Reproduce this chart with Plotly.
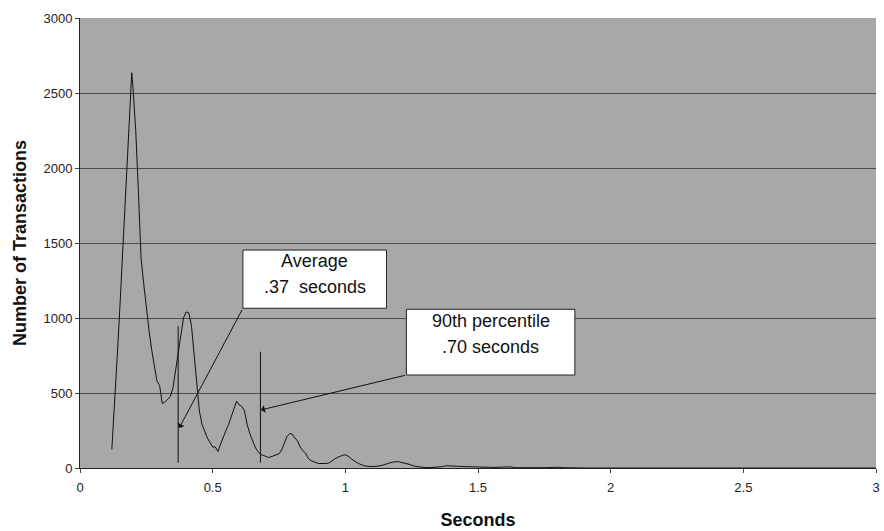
import plotly.graph_objects as go

# ---- data ----
seconds = [0.12, 0.13, 0.14, 0.15, 0.16, 0.17, 0.18, 0.19, 0.195, 0.20, 0.21, 0.22, 0.23, 0.24, 0.25,
           0.26, 0.27, 0.28, 0.29, 0.30, 0.31, 0.32, 0.33, 0.34, 0.35, 0.36, 0.37, 0.38, 0.39, 0.40,
           0.41, 0.42, 0.43, 0.44, 0.45, 0.46, 0.47, 0.48, 0.49, 0.50, 0.51, 0.52, 0.53, 0.54, 0.55,
           0.56, 0.57, 0.58, 0.59, 0.60, 0.61, 0.62, 0.63, 0.64, 0.65, 0.66, 0.67, 0.68, 0.69, 0.70,
           0.71, 0.72, 0.73, 0.74, 0.75, 0.76, 0.77, 0.78, 0.79, 0.80, 0.81, 0.82, 0.83, 0.84, 0.85,
           0.86, 0.87, 0.88, 0.89, 0.90, 0.91, 0.92, 0.93, 0.94, 0.95, 0.96, 0.97, 0.98, 0.99, 1.00,
           1.01, 1.02, 1.03, 1.04, 1.05, 1.06, 1.07, 1.08, 1.09, 1.10, 1.12, 1.14, 1.16, 1.18, 1.20,
           1.22, 1.24, 1.26, 1.28, 1.30, 1.32, 1.34, 1.36, 1.38, 1.40, 1.42, 1.44, 1.46, 1.48, 1.50,
           1.52, 1.54, 1.56, 1.58, 1.60, 1.62, 1.64, 1.70, 1.76, 1.80, 1.82, 1.90, 2.00, 2.50, 3.00]
transactions = [125, 400, 735, 1060, 1400, 1750, 2100, 2450, 2635, 2530, 2250, 1850, 1400, 1230, 1050,
                920, 790, 680, 580, 550, 430, 440, 460, 475, 530, 650, 790, 880, 1000, 1040,
                1035, 950, 770, 560, 380, 290, 240, 200, 170, 140, 140, 110, 160, 210, 250,
                290, 340, 390, 445, 420, 410, 380, 290, 230, 180, 140, 110, 90, 85, 80,
                70, 75, 80, 85, 95, 120, 170, 210, 230, 225, 200, 180, 140, 115, 100,
                65, 50, 40, 35, 30, 30, 25, 30, 35, 50, 60, 70, 80, 85, 88,
                80, 65, 50, 40, 30, 22, 15, 12, 10, 10, 12, 18, 30, 40, 42,
                35, 25, 12, 5, 3, 3, 5, 8, 15, 16, 12, 10, 8, 6, 5,
                6, 5, 4, 6, 10, 8, 2, 1, 2, 5, 2, 0, 0, 0, 0]

marker_seconds = [0.37, 0.68]          # average, 90th percentile
marker_tops = [945, 775]
marker_bottom = 35
callout_lines = [["Average", ".37  seconds"], ["90th percentile", ".70 seconds"]]
callout_text_y = [[1377, 1210], [977, 810]]
callout_boxes = [(0.614, 1.155, 1065, 1453), (1.230, 1.865, 620, 1058)]  # x0, x1, y0, y1
callout_tails = [(0.614, 1065), (1.230, 620)]
callout_heads = [(0.374, 267), (0.682, 387)]

x_ticks = [0, 0.5, 1, 1.5, 2, 2.5, 3]
x_tick_text = ["0", "0.5", "1", "1.5", "2", "2.5", "3"]
y_ticks = [0, 500, 1000, 1500, 2000, 2500, 3000]

FONT = "Liberation Sans, Arial, sans-serif"

fig = go.Figure()
fig.add_trace(go.Scatter(x=seconds, y=transactions, mode="lines",
                         line=dict(color="#111111", width=1), showlegend=False))

for xs, top in zip(marker_seconds, marker_tops):
    fig.add_trace(go.Scatter(x=[xs, xs], y=[marker_bottom, top], mode="lines",
                             line=dict(color="#111111", width=1), showlegend=False))

annotations = []
shapes = []
for lines, ty, box, tail, head in zip(callout_lines, callout_text_y, callout_boxes,
                                      callout_tails, callout_heads):
    x0, x1, y0, y1 = box
    shapes.append(dict(type="rect", xref="x", yref="y", x0=x0, x1=x1, y0=y0, y1=y1,
                       fillcolor="white", line=dict(color="#222222", width=1), layer="above"))
    xc = (x0 + x1) / 2
    for line, yy in zip(lines, ty):
        annotations.append(dict(x=xc, y=yy, xref="x", yref="y", text=line,
                                showarrow=False, font=dict(family=FONT, size=18, color="#111")))
    annotations.append(dict(x=head[0], y=head[1], xref="x", yref="y",
                            ax=tail[0], ay=tail[1], axref="x", ayref="y",
                            text="", showarrow=True, arrowhead=1, arrowsize=1.3,
                            arrowwidth=1, arrowcolor="#111111"))

fig.update_layout(
    width=884, height=531,
    margin=dict(l=80, r=8, t=18, b=63),
    paper_bgcolor="white",
    plot_bgcolor="#a8a8a8",
    font=dict(family=FONT, size=13, color="#222222"),
    shapes=shapes,
    annotations=annotations,
    xaxis=dict(range=[0, 3], tickvals=x_ticks, ticktext=x_tick_text, automargin=False,
               showgrid=False, zeroline=False, showline=True, linecolor="#222", linewidth=1,
               ticks="outside", ticklen=4, tickcolor="#444", ticklabelstandoff=3,
               tickfont=dict(family=FONT, size=13, color="#222"),
               title=dict(text="<b>Seconds</b>", standoff=19,
                          font=dict(family=FONT, size=18, color="#111"))),
    yaxis=dict(range=[0, 3000], tickvals=y_ticks, automargin=False,
               showgrid=True, gridcolor="#4d4d4d", gridwidth=1,
               zeroline=False, showline=True, linecolor="#222", linewidth=1,
               ticks="outside", ticklen=4, tickcolor="#444",
               tickfont=dict(family=FONT, size=13, color="#222"),
               title=dict(text="<b>Number of Transactions</b>", standoff=12,
                          font=dict(family=FONT, size=18, color="#111"))),
)

fig.write_html("out.html")
